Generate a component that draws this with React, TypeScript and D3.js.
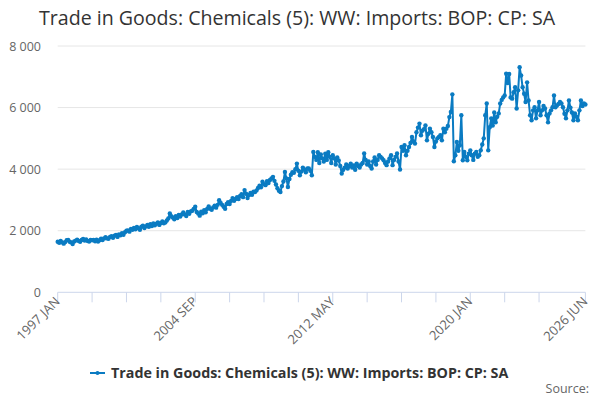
import React, { useRef, useEffect } from "react";
import * as d3 from "d3";

const TITLE = "Trade in Goods: Chemicals (5): WW: Imports: BOP: CP: SA";
const SERIES_NAME = "Trade in Goods: Chemicals (5): WW: Imports: BOP: CP: SA";
const START_YEAR = 1997;
const MONTHS = ["JAN", "FEB", "MAR", "APR", "MAY", "JUN", "JUL", "AUG", "SEP", "OCT", "NOV", "DEC"];
const X_LABELS = ["1997 JAN", "2004 SEP", "2012 MAY", "2020 JAN", "2026 JUN"];
const Y_TICKS = [0, 2000, 4000, 6000, 8000];

// monthly values, £ million, one row per year
const VALUES: number[] = [
  1640, 1610, 1670, 1620, 1580, 1630, 1690, 1700, 1640, 1620, 1570, 1650, // 1997
  1680, 1710, 1670, 1640, 1700, 1730, 1680, 1720, 1670, 1650, 1700, 1690, // 1998
  1700, 1660, 1710, 1650, 1690, 1740, 1700, 1750, 1790, 1750, 1740, 1800, // 1999
  1820, 1770, 1840, 1860, 1800, 1880, 1850, 1920, 1870, 1950, 2000, 2010, // 2000
  1970, 2060, 2030, 2090, 2050, 2120, 2080, 2030, 2130, 2160, 2090, 2140, // 2001
  2190, 2130, 2210, 2150, 2240, 2180, 2230, 2270, 2190, 2250, 2300, 2240, // 2002
  2270, 2330, 2400, 2560, 2470, 2430, 2370, 2470, 2410, 2510, 2460, 2530, // 2003
  2590, 2530, 2480, 2610, 2550, 2630, 2650, 2710, 2780, 2610, 2560, 2490, // 2004
  2620, 2570, 2670, 2600, 2710, 2790, 2710, 2680, 2760, 2810, 2750, 2840, // 2005
  2990, 2900, 2840, 2780, 2710, 2870, 2930, 2870, 2970, 3060, 2970, 3030, // 2006
  3090, 3030, 3130, 3190, 3090, 3320, 3200, 3060, 3160, 3230, 3170, 3270, // 2007
  3260, 3310, 3390, 3460, 3410, 3590, 3510, 3480, 3610, 3550, 3650, 3700, // 2008
  3750, 3620, 3500, 3380, 3300, 3260, 3450, 3600, 3910, 3700, 3420, 3680, // 2009
  3820, 3900, 3880, 4000, 4180, 3950, 3800, 3920, 4050, 3980, 3900, 4020, // 2010
  4020, 3950, 3800, 4560, 4400, 4300, 4550, 4200, 4480, 4350, 4250, 4500, // 2011
  4300, 4550, 4400, 4200, 4450, 4350, 4150, 4380, 4280, 4100, 3860, 3980, // 2012
  4050, 4150, 4020, 4100, 4180, 4050, 4120, 3980, 4180, 4100, 4050, 4150, // 2013
  4200, 4510, 4300, 4150, 4250, 4100, 4020, 4250, 4380, 4150, 4300, 4450, // 2014
  4400, 4350, 4290, 4200, 4130, 4250, 4350, 4450, 4130, 4300, 4400, 4510, // 2015
  4250, 3990, 4720, 4600, 4775, 4450, 4600, 4720, 4850, 5045, 4900, 4830, // 2016
  5200, 5350, 5480, 5100, 5250, 5300, 5420, 4935, 5150, 5315, 5200, 5045, // 2017
  4720, 4900, 5000, 5045, 5100, 4935, 5315, 5200, 5315, 5400, 5690, 5855, // 2018
  6430, 4255, 4450, 4880, 4600, 4775, 5750, 4290, 4560, 4400, 4290, 4500, // 2019
  4610, 4450, 4300, 4500, 4560, 4400, 4450, 4610, 4800, 5000, 5750, 6130, // 2020
  4610, 5360, 5650, 5420, 5840, 5520, 5700, 5810, 6130, 6250, 6330, 6390, // 2021
  7100, 6800, 7090, 6330, 6290, 6500, 6660, 5970, 6560, 7310, 7040, 6660, // 2022
  6450, 6180, 6820, 6230, 5750, 5590, 5910, 6010, 5650, 5910, 6180, 5750, // 2023
  5910, 6050, 5970, 5750, 5520, 5810, 5910, 6010, 6390, 6010, 6070, 6120, // 2024
  6180, 6130, 6010, 5800, 5650, 5910, 6230, 6000, 5840, 5590, 5810, 5700, // 2025
  5590, 5910, 6230, 6050, 6130, 6100, // 2026
];

const CATEGORIES = VALUES.map((_, i) => `${START_YEAR + Math.floor(i / 12)} ${MONTHS[i % 12]}`);

export default function App() {
  const ref = useRef<SVGSVGElement>(null);

  useEffect(() => {
    if (!ref.current) return;
    const svg = d3.select(ref.current);
    svg.selectAll("*").remove();

    const w = 600;
    const h = 400;
    const margin = { top: 46, right: 14.6, bottom: 107.7, left: 57.7 };
    const color = "#0a7bc2";
    const font = "'Open Sans', 'DejaVu Sans', sans-serif";

    const n = VALUES.length;
    const x = d3.scaleLinear().domain([0, n - 1]).range([margin.left, w - margin.right]);
    const y = d3.scaleLinear().domain([0, 8000]).range([h - margin.bottom, margin.top]);

    svg.append("rect").attr("width", w).attr("height", h).attr("fill", "#fff");

    // title
    svg.append("text")
      .attr("x", 297)
      .attr("y", 25)
      .attr("text-anchor", "middle")
      .attr("fill", "#333")
      .style("font-family", font)
      .style("font-size", "19.6px")
      .text(TITLE);

    // grid + y labels
    const grid = svg.append("g");
    Y_TICKS.forEach(t => {
      if (t > 0) {
        grid.append("line")
          .attr("x1", margin.left).attr("x2", w - margin.right)
          .attr("y1", y(t)).attr("y2", y(t))
          .attr("stroke", "#e6e6e6").attr("stroke-width", 1);
      }
      grid.append("text")
        .attr("x", 41)
        .attr("y", y(t) + 4.5)
        .attr("text-anchor", "end")
        .attr("fill", "#666")
        .style("font-family", font)
        .style("font-size", "12.5px")
        .text(d3.format(",")(t).replace(/,/g, " "));
    });

    // x axis
    const axisY = y(0);
    svg.append("line")
      .attr("x1", margin.left).attr("x2", w - margin.right)
      .attr("y1", axisY).attr("y2", axisY)
      .attr("stroke", "#ccd6eb");
    const tickIdx = d3.range(0, n - 1 - 23, 23).concat([n - 1]);
    tickIdx.forEach(i => {
      svg.append("line")
        .attr("x1", x(i)).attr("x2", x(i))
        .attr("y1", axisY).attr("y2", axisY + 10)
        .attr("stroke", "#ccd6eb");
    });
    X_LABELS.forEach(lbl => {
      const i = CATEGORIES.indexOf(lbl);
      const lx = x(i) + 3;
      const ly = axisY + 10;
      svg.append("text")
        .attr("transform", `translate(${lx},${ly}) rotate(-45)`)
        .attr("text-anchor", "end")
        .attr("fill", "#666")
        .style("font-family", font)
        .style("font-size", "13px")
        .text(lbl);
    });

    // series
    const line = d3.line<number>()
      .x((_, i) => x(i))
      .y(d => y(d));
    svg.append("path")
      .datum(VALUES)
      .attr("fill", "none")
      .attr("stroke", color)
      .attr("stroke-width", 2)
      .attr("stroke-linejoin", "round")
      .attr("d", line as any);
    svg.append("g")
      .selectAll("circle")
      .data(VALUES)
      .join("circle")
      .attr("cx", (_, i) => x(i))
      .attr("cy", d => y(d))
      .attr("r", 2.2)
      .attr("fill", color);

    // legend
    const lg = svg.append("g");
    lg.append("line")
      .attr("x1", 90).attr("x2", 105)
      .attr("y1", 373).attr("y2", 373)
      .attr("stroke", color).attr("stroke-width", 2);
    lg.append("circle").attr("cx", 97.5).attr("cy", 373).attr("r", 2).attr("fill", color);
    lg.append("text")
      .attr("x", 111)
      .attr("y", 378)
      .attr("fill", "#333")
      .style("font-family", font)
      .style("font-size", "14.3px")
      .style("font-weight", "bold")
      .text(SERIES_NAME);

    svg.append("text")
      .attr("x", 589)
      .attr("y", 393)
      .attr("text-anchor", "end")
      .attr("fill", "#666")
      .style("font-family", font)
      .style("font-size", "12.5px")
      .text("Source:");
  }, []);

  return (
    <svg
      ref={ref}
      width={600}
      height={400}
      style={{ position: "absolute", left: 0, top: 0 }}
    />
  );
}
